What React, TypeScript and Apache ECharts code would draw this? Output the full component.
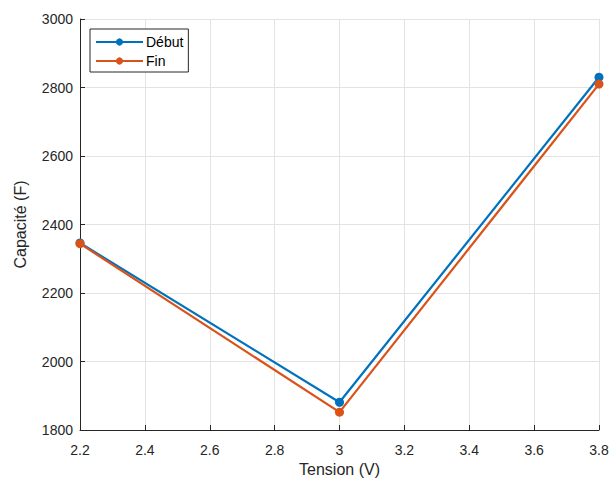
import React, { useEffect, useRef } from "react";
import * as echarts from "echarts";

const tension = [2.2, 3, 3.8];
const debut = [2346, 1881, 2830];
const fin = [2344, 1852, 2810];
const seriesNames = ["Début", "Fin"];

export default function App() {
  const ref = useRef<HTMLDivElement>(null);
  useEffect(() => {
    const chart = echarts.init(ref.current!, null, { renderer: "svg" });
    const font = "'Liberation Sans', Arial, sans-serif";
    const axisCommon = {
      axisLine: { show: true, lineStyle: { color: "#262626", width: 1 } },
      axisTick: { show: true, inside: true, length: 5, lineStyle: { color: "#262626" } },
      splitLine: { show: true, lineStyle: { color: "#e3e3e3", width: 1 } },
      axisLabel: { color: "#262626", fontSize: 14, fontFamily: font },
      nameTextStyle: { color: "#262626", fontSize: 16, fontFamily: font },
    };
    chart.setOption({
      animation: false,
      backgroundColor: "#ffffff",
      grid: { left: 80, right: 13, top: 19, bottom: 49, containLabel: false, outerBoundsMode: "none" },
      xAxis: {
        type: "value",
        min: 2.2,
        max: 3.8,
        interval: 0.2,
        name: "Tension (V)",
        nameLocation: "middle",
        nameGap: 29,
        ...axisCommon,
        axisLabel: {
          ...axisCommon.axisLabel,
          margin: 13,
          formatter: (v: number) => String(Math.round(v * 10) / 10),
        },
      },
      yAxis: {
        type: "value",
        min: 1800,
        max: 3000,
        interval: 200,
        name: "Capacité (F)",
        nameLocation: "middle",
        nameGap: 52,
        ...axisCommon,
        axisLabel: { ...axisCommon.axisLabel, margin: 7, formatter: (v: number) => String(v) },
      },
      legend: {
        show: true,
        data: seriesNames,
        orient: "vertical",
        left: 90,
        top: 29,
        itemWidth: 47,
        itemHeight: 9,
        itemGap: 5,
        padding: [6, 5, 4, 5],
        borderColor: "#262626",
        borderWidth: 1,
        borderRadius: 0,
        backgroundColor: "#ffffff",
        textStyle: { color: "#000", fontSize: 14, fontFamily: font, padding: [0, 0, 0, -2] },
      },
      series: [
        {
          name: seriesNames[0],
          type: "line",
          data: tension.map((t, i) => [t, debut[i]]),
          symbol: "circle",
          symbolSize: 9,
          lineStyle: { color: "#0072BD", width: 2.2 },
          itemStyle: { color: "#0072BD" },
          z: 3,
        },
        {
          name: seriesNames[1],
          type: "line",
          data: tension.map((t, i) => [t, fin[i]]),
          symbol: "circle",
          symbolSize: 9,
          lineStyle: { color: "#D95319", width: 2.2 },
          itemStyle: { color: "#D95319" },
          z: 4,
        },
      ],
    });
    return () => chart.dispose();
  }, []);
  return <div ref={ref} style={{ width: 612, height: 479, position: "absolute", left: 0, top: 0 }} />;
}
